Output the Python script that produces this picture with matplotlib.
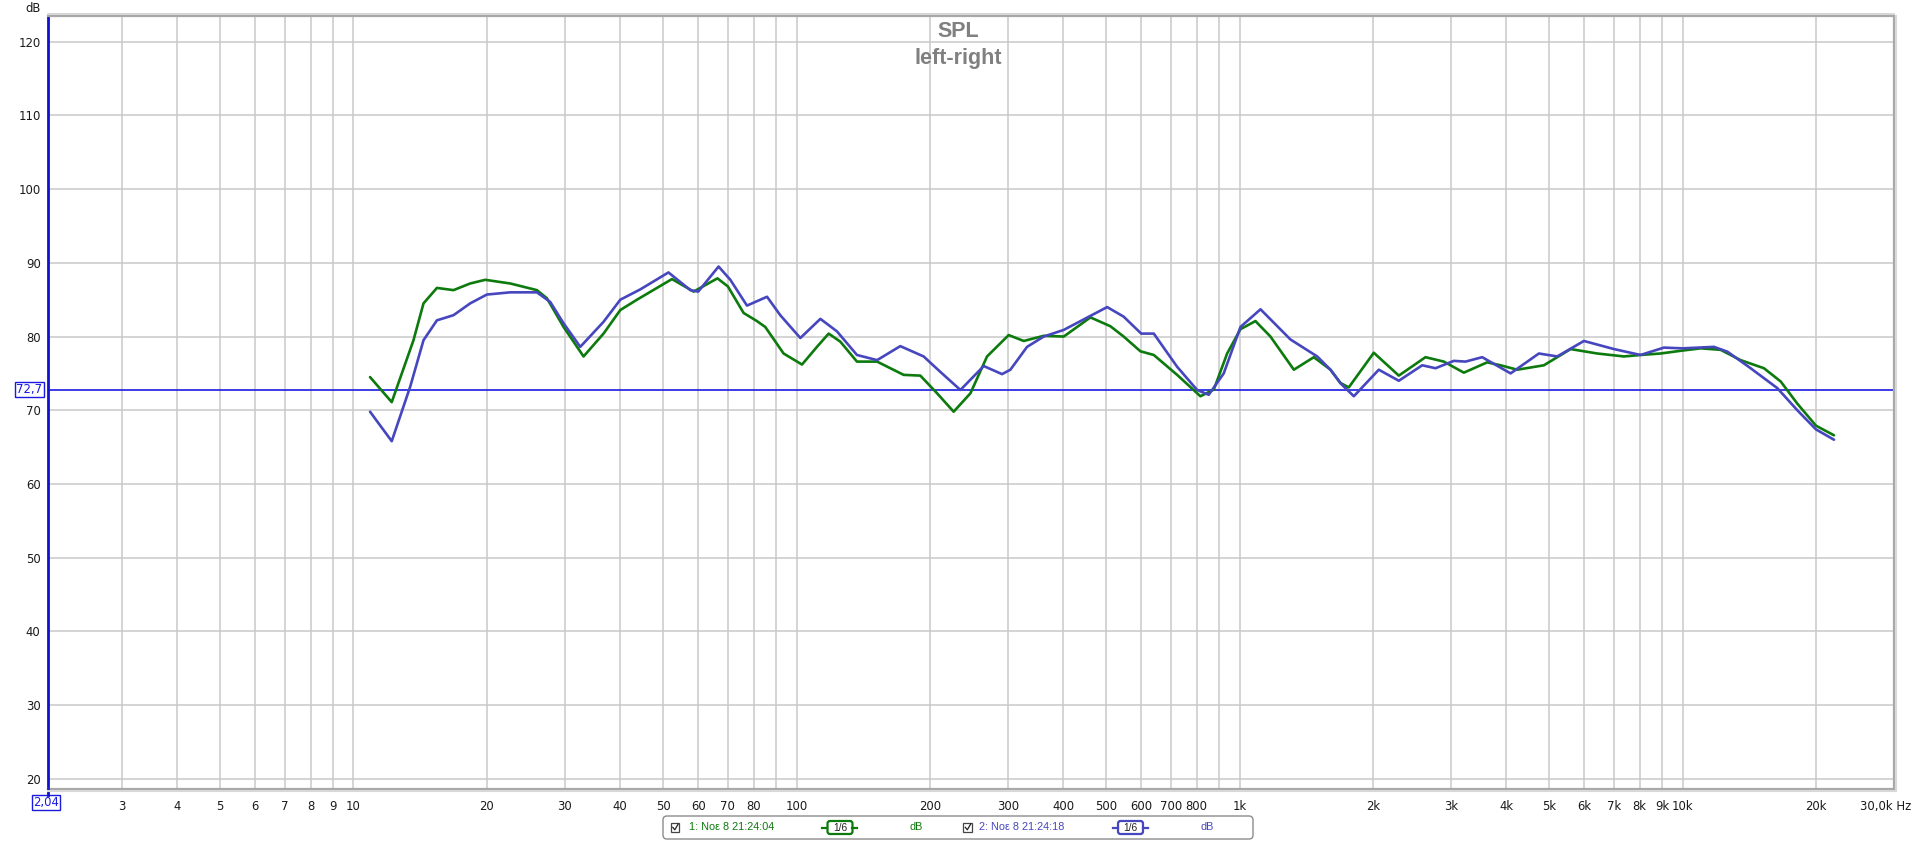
import matplotlib
matplotlib.use("Agg")
import matplotlib.pyplot as plt
from matplotlib.patches import FancyBboxPatch, Rectangle
from matplotlib.transforms import blended_transform_factory, ScaledTranslation

plt.rcParams['font.family'] = ['Liberation Sans', 'DejaVu Sans']

# ---------------- data ----------------
green_freq = [10.9, 12.2, 13.66, 14.39, 15.43, 16.82, 18.34, 19.83, 22.59, 25.94, 27.33, 29.8,
              33.06, 36.68, 40.02, 43.64, 52.35, 58.6, 66.3, 70, 75.96, 81.4, 85.0, 93.5,
              102.9, 111.2, 118.2, 125.6, 136.9, 152, 174.5, 190.3, 207.6, 226.3, 246.9,
              269.2, 301.2, 325.7, 361.4, 401, 460.7, 511, 547.5, 597.4, 640.3, 722.9,
              815.8, 874.6, 937.5, 1004.7, 1086, 1174, 1326, 1471, 1604, 1690, 1764, 2009,
              2288, 2628, 2891, 3208, 3622, 3882, 4235, 4863, 5587, 6418, 7372, 8035, 8918,
              10000, 10983, 12180, 13520, 15260, 16650, 18150, 20000, 21960]
green_db = [74.5, 71.1, 79.5, 84.5, 86.6, 86.3, 87.2, 87.7, 87.2, 86.3, 85.2, 81.3,
            77.3, 80.4, 83.6, 85.0, 87.8, 86.1, 87.9, 86.8, 83.2, 82.1, 81.3, 77.7,
            76.2, 78.6, 80.4, 79.3, 76.6, 76.6, 74.8, 74.7, 72.3, 69.8, 72.3,
            77.3, 80.2, 79.4, 80.1, 80.0, 82.6, 81.4, 80.0, 78.0, 77.5, 74.8,
            71.9, 72.8, 77.7, 81.0, 82.1, 80.0, 75.5, 77.2, 75.5, 73.7, 73.1, 77.8,
            74.7, 77.2, 76.6, 75.1, 76.5, 76.1, 75.5, 76.1, 78.3, 77.7, 77.3, 77.5, 77.7,
            78.1, 78.4, 78.2, 76.8, 75.7, 73.9, 70.9, 67.9, 66.6]

blue_freq = [10.9, 12.2, 13.43, 14.39, 15.43, 16.82, 18.34, 20.0, 22.59, 25.94, 27.8, 29.8,
             32.5, 36.68, 40.02, 44.4, 51.4, 57.6, 60, 66.7, 70.9, 77.3, 85.8, 91.9,
             102, 113.2, 123.4, 136.9, 152, 171.5, 193.6, 211.2, 234.4, 264.6, 291,
             303.9, 331.4, 361.4, 401, 502.5, 547.5, 599.8, 640.3, 722.9, 802, 852, 921,
             1004.7, 1115, 1303, 1497, 1604, 1690, 1811, 2062, 2288, 2584, 2769, 3045,
             3236, 3529, 4090, 4738, 5212, 5987, 7000, 8035, 9076, 10000, 11770, 12620,
             14240, 16360, 18150, 20000, 21960]
blue_db = [69.8, 65.8, 73.2, 79.5, 82.2, 82.9, 84.5, 85.7, 86.0, 86.0, 84.7, 81.8,
           78.6, 82.0, 85.0, 86.4, 88.7, 86.3, 86.1, 89.5, 87.7, 84.2, 85.4, 82.9,
           79.8, 82.4, 80.7, 77.5, 76.8, 78.7, 77.3, 75.2, 72.75, 76.0, 74.9,
           75.5, 78.6, 80.0, 80.9, 84.0, 82.7, 80.4, 80.4, 75.9, 72.75, 72.1, 75.0,
           81.3, 83.7, 79.6, 77.3, 75.5, 73.65, 71.9, 75.5, 74.0, 76.1, 75.7, 76.7,
           76.6, 77.2, 75.0, 77.7, 77.3, 79.4, 78.3, 77.5, 78.5, 78.4, 78.6, 77.95,
           75.7, 73.0, 70.0, 67.4, 66.0]

ref_level = 72.7
x_min, x_max = 2.04, 30000
y_min, y_max = 18.56, 123.5

x_ticks = [3, 4, 5, 6, 7, 8, 9, 10, 20, 30, 40, 50, 60, 70, 80, 90, 100,
           200, 300, 400, 500, 600, 700, 800, 900, 1000,
           2000, 3000, 4000, 5000, 6000, 7000, 8000, 9000, 10000, 20000, 30000]
x_labels = ['3', '4', '5', '6', '7', '8', '9', '10', '20', '30', '40', '50', '60', '70', '80', '', '100',
            '200', '300', '400', '500', '600', '700', '800', '', '1k',
            '2k', '3k', '4k', '5k', '6k', '7k', '8k', '9k', '10k', '20k', '30,0k Hz']
y_ticks = [20, 30, 40, 50, 60, 70, 80, 90, 100, 110, 120]

legend_names = ['1: Noε 8 21:24:04', '2: Noε 8 21:24:18']
green_col = '#0d7a0d'
blue_col = '#4646bf'
ref_col = '#1a1ae0'
TICK_FONT = ['DejaVu Sans']
TICK_SIZE = 8.4

# ---------------- figure ----------------
W, H = 1916, 841
fig = plt.figure(figsize=(W / 100, H / 100), dpi=100)
L, R, T, B = 47.6, 1894.0, 16.0, 789.3
ax = fig.add_axes([L / W, (H - B) / H, (R - L) / W, (B - T) / H])

ax.set_xscale('log')
ax.set_xlim(x_min, x_max)
ax.set_ylim(y_min, y_max)

ax.set_xticks(x_ticks)
ax.set_xticklabels(x_labels)
ax.xaxis.set_minor_locator(matplotlib.ticker.NullLocator())
ax.set_yticks(y_ticks)
ax.set_yticklabels([str(v) for v in y_ticks])
ax.tick_params(axis='both', length=0, labelsize=TICK_SIZE, colors='#1a1a1a')
ax.tick_params(axis='x', pad=7.5)
ax.tick_params(axis='y', pad=5)
for lab in ax.get_xticklabels() + ax.get_yticklabels():
    lab.set_family(TICK_FONT)
# last label ("30,0k Hz") ends near the right border of the picture
last = ax.get_xticklabels()[-1]
last.set_horizontalalignment('right')
last.set_transform(last.get_transform() + ScaledTranslation(17 / 100, 0, fig.dpi_scale_trans))

ax.grid(True, color='#c9c9c9', linewidth=1.1)
ax.set_axisbelow(True)

for side in ['top', 'right', 'bottom']:
    ax.spines[side].set_color('#a8a8a8')
    ax.spines[side].set_linewidth(1.6)
ax.spines['left'].set_color('#1010d0')
ax.spines['left'].set_linewidth(2.0)

ax.axhline(ref_level, color=ref_col, linewidth=1.2, zorder=2)
ax.plot(green_freq, green_db, color=green_col, linewidth=1.9, zorder=3,
        solid_joinstyle='round', solid_capstyle='round')
ax.plot(blue_freq, blue_db, color=blue_col, linewidth=1.9, zorder=4,
        solid_joinstyle='round', solid_capstyle='round')

# reference level box on the y axis
ytr = blended_transform_factory(ax.transAxes, ax.transData)
ax.text(-0.0098, ref_level + 0.15, '72,7', transform=ytr, ha='center', va='center',
        fontsize=TICK_SIZE, family=TICK_FONT, color=ref_col, clip_on=False,
        bbox=dict(boxstyle='square,pad=0.1', fc='white', ec=ref_col, lw=1.0))
# x start box
ax.text(-0.0009, -0.0175, '2,04', transform=ax.transAxes, ha='center', va='center',
        fontsize=TICK_SIZE, family=TICK_FONT, color=ref_col, clip_on=False,
        bbox=dict(boxstyle='square,pad=0.1', fc='white', ec=ref_col, lw=1.0))

# ---------------- overlay in pixel coords ----------------
ov = fig.add_axes([0, 0, 1, 1], zorder=5)
ov.set_xlim(0, W)
ov.set_ylim(H, 0)
ov.axis('off')
ov.patch.set_alpha(0)

# blue axis extension down to the box
ov.plot([L, L], [B, 795], color='#1010d0', lw=2.0)
# shadows of the frame
ov.plot([L, R + 1.5], [B + 2, B + 2], color='#d8d8d8', lw=1.5)
ov.plot([R + 2, R + 2], [T, B + 2], color='#d8d8d8', lw=1.5)
ov.plot([L, R], [T - 2, T - 2], color='#d0d0d0', lw=1.2)

ov.text(33, 8, 'dB', ha='center', va='center', fontsize=TICK_SIZE, family=TICK_FONT,
        color='#1a1a1a')
ov.text(958, 37.3, 'SPL', ha='center', va='baseline', fontsize=15.5,
        fontweight='bold', color='#808080')
ov.text(958, 64, 'left-right', ha='center', va='baseline', fontsize=15.5,
        fontweight='bold', color='#808080')

# legend box
ov.add_patch(FancyBboxPatch((663, 816), 590, 23, boxstyle='round,pad=0,rounding_size=4',
                            fc='white', ec='#8c8c8c', lw=1.0))
entries = [(legend_names[0], green_col, 671, 689, 840.0, 915.7),
           (legend_names[1], blue_col, 963.5, 979, 1130.5, 1207)]
for name, col, cbx, tx, icx, dbx in entries:
    ov.add_patch(Rectangle((cbx, 823), 8.5, 8.5, fc='white', ec='#444444', lw=0.9))
    ov.plot([cbx + 1.8, cbx + 3.8, cbx + 7.2], [827.3, 829.8, 824.0], color='#222222', lw=0.9)
    ov.text(tx, 827.5, name, ha='left', va='center', fontsize=7.8, color=col)
    ov.plot([icx - 17.5, icx - 12.5], [827.5, 827.5], color=col, lw=1.6)
    ov.plot([icx + 12.5, icx + 17.5], [827.5, 827.5], color=col, lw=1.6)
    ov.add_patch(FancyBboxPatch((icx - 12.5, 821), 25, 13,
                                boxstyle='round,pad=0,rounding_size=2.5',
                                fc='white', ec=col, lw=1.6))
    ov.text(icx, 828, '1/6', ha='center', va='center', fontsize=7.4, color='#222222')
    ov.text(dbx, 827.5, 'dB', ha='center', va='center', fontsize=7.8, color=col)

fig.savefig('out.png', dpi=100)
